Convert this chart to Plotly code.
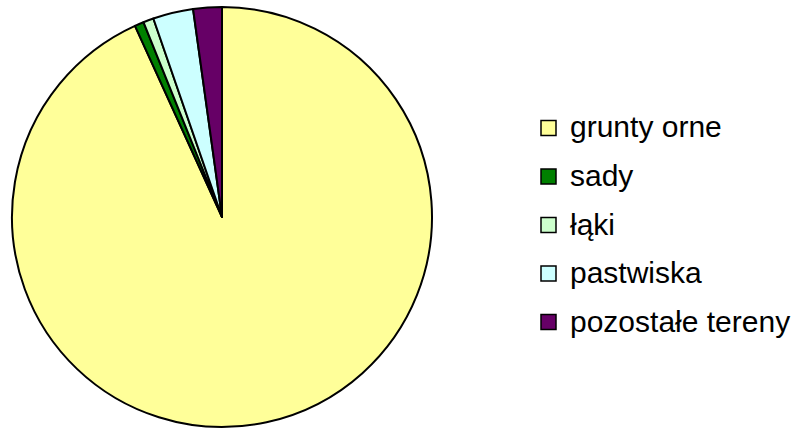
import plotly.graph_objects as go

labels = ["grunty orne", "sady", "łąki", "pastwiska", "pozostałe tereny"]
values = [93.2, 0.7, 0.8, 3.1, 2.2]
colors = ["#FFFF99", "#008000", "#CCFFCC", "#CCFFFF", "#660066"]

W, H = 801, 429
cx, cy, r = 222, 217, 210

fig = go.Figure(go.Pie(
    labels=labels, values=values, sort=False, direction="clockwise", rotation=0,
    marker=dict(colors=colors, line=dict(color="black", width=2)),
    textinfo="none", hoverinfo="label+percent", showlegend=False,
    domain=dict(x=[(cx - r) / W, (cx + r) / W], y=[(H - cy - r) / H, (H - cy + r) / H]),
))

# legend drawn manually to match the reference spacing
lx0, ly0, step, sq = 541, 128, 48.5, 15
for i, (lab, col) in enumerate(zip(labels, colors)):
    yc = ly0 + i * step
    fig.add_shape(type="rect", xref="paper", yref="paper",
                  x0=lx0 / W, x1=(lx0 + sq) / W,
                  y0=(H - yc - sq / 2) / H, y1=(H - yc + sq / 2) / H,
                  fillcolor=col, line=dict(color="black", width=1.5))
    fig.add_annotation(text=lab, xref="paper", yref="paper",
                       x=(lx0 + sq + 12) / W, y=(H - yc + 1) / H,
                       xanchor="left", yanchor="middle", showarrow=False,
                       font=dict(size=30, color="black"))

fig.update_layout(
    width=W, height=H, margin=dict(l=0, r=0, t=0, b=0),
    paper_bgcolor="white", plot_bgcolor="white",
    font=dict(family="Liberation Sans, Arial, sans-serif", color="black", size=30),
)
fig.write_html("out.html", config={"displayModeBar": False},
               post_script="document.body.style.margin='0';")
